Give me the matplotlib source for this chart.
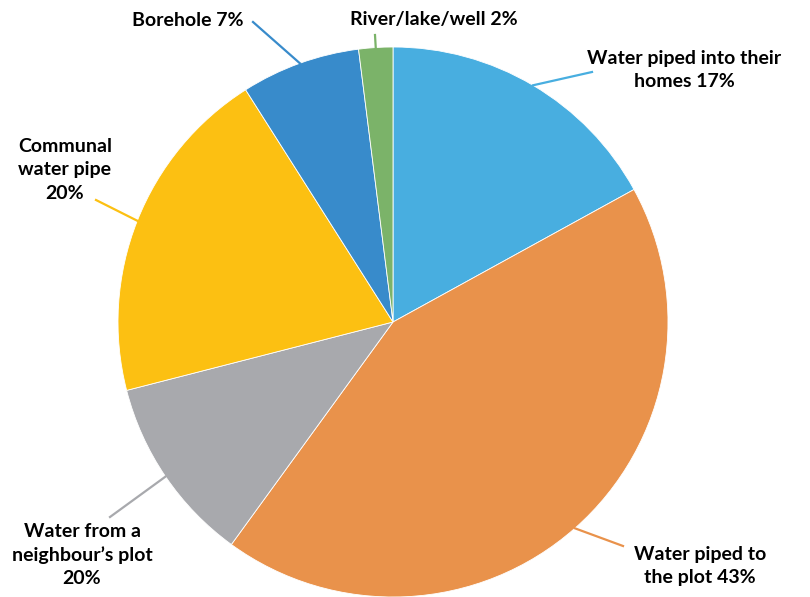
import numpy as np
import matplotlib.pyplot as plt

# slice sizes and the label texts shown on the chart
sources = ['homes', 'plot', 'neighbour', 'communal', 'borehole', 'river']
shares = [17, 43, 11, 20, 7, 2]
labels = ['Water piped into their\nhomes 17%',
          'Water piped to\nthe plot 43%',
          'Water from a\nneighbour\u2019s plot\n20%',
          'Communal\nwater pipe\n20%',
          'Borehole 7%',
          'River/lake/well 2%']
colors = ['#48AEE0', '#E9924B', '#A8A9AD', '#FCC012', '#388BCB', '#7BB369']

# label placement (pixel coords, y from top) and leader line ends
label_pos = [(684, 70), (700, 566), (82, 555), (65, 170), (188, 20), (434, 20)]
leader_end = [(592, 72), (623, 546), (110, 517), (96, 200), (253, 22), (375, 35)]

W, H = 810, 597
cx, cy, r = 393, H - 322, 275

fig = plt.figure(figsize=(W / 100, H / 100), dpi=100)
ax = fig.add_axes([0, 0, 1, 1])

wedges, _ = ax.pie(shares, colors=colors, startangle=90, counterclock=False,
                   center=(cx, cy), radius=r, frame=True,
                   wedgeprops=dict(edgecolor='white', linewidth=0.6))
ax.set_xlim(0, W)
ax.set_ylim(0, H)
ax.set_aspect('equal')
ax.axis('off')

for w, lab, pos, end, col in zip(wedges, labels, label_pos, leader_end, colors):
    mid = np.deg2rad((w.theta1 + w.theta2) / 2)
    x0 = cx + r * np.cos(mid)
    y0 = cy + r * np.sin(mid)
    ax.plot([x0, end[0]], [y0, H - end[1]], color=col, lw=1.6)
    ax.text(pos[0], H - pos[1], lab, ha='center', va='center',
            fontsize=14, fontweight='bold', family='Lato',
            linespacing=1.45, color='black')

fig.savefig('out.png', dpi=100)
